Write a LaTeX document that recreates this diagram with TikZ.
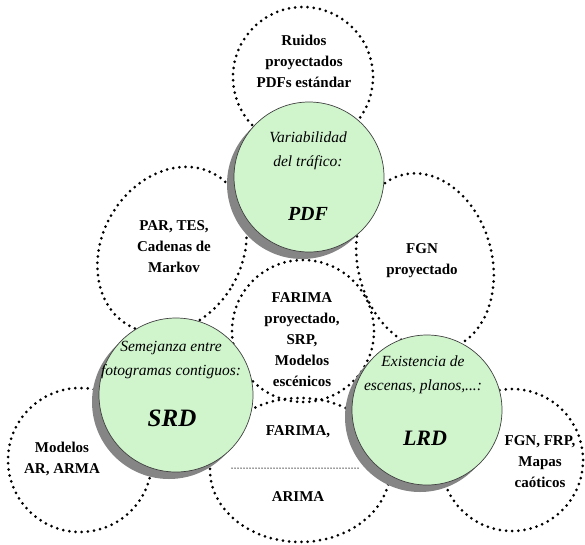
\documentclass[tikz,border=0pt]{standalone}
\usepackage{fontspec}
\setmainfont{Liberation Serif}
\usetikzlibrary{shapes.geometric,shadows}
\definecolor{mint}{RGB}{208,245,205}
\begin{document}
\begin{tikzpicture}[x=1pt,y=-1pt,
  dotc/.style={draw=black, line width=3pt, dash pattern=on 0pt off 6.2pt, line cap=round, inner sep=0pt, outer sep=0pt},
  ring/.style={dotc, circle, minimum size=#1},
  oval/.style={dotc, ellipse},
  fine/.style={draw=black!80, line width=1.5pt, dash pattern=on 0pt off 3pt, line cap=round},
  greenc/.style={circle, draw=black!75, line width=0.7pt, fill=mint, minimum size=#1, inner sep=0pt,
    drop shadow={shadow xshift=-7pt, shadow yshift=-7pt, fill=black!48, opacity=1}},
  lbl/.style={align=center, font=\fontsize{15}{21}\selectfont\bfseries, inner sep=0pt},
  ital/.style={align=center, font=\fontsize{15.5}{23.5}\selectfont\itshape, inner sep=0pt},
  big/.style={font=\fontsize{#1}{#1}\selectfont\bfseries\itshape, inner sep=0pt}
]
\useasboundingbox (0,0) rectangle (585,544);
% dotted circles
\node[ring=140pt] (top) at (303,77) {};
\node[oval, minimum width=140pt, minimum height=174pt, rotate=-30] (par) at (172,250) {};
\node[oval, minimum width=134pt, minimum height=180pt, rotate=15] (fgn) at (425,262) {};
\node[ring=142pt] (mid) at (303,331) {};
\node[oval, minimum width=180pt, minimum height=144pt] (bot) at (300,470) {};
\node[ring=144pt] (lft) at (80,460) {};
\node[ring=142pt] (rgt) at (512,460) {};
\coordinate (la) at (232,468);
\coordinate (lb) at (358,468);
\draw[fine] (la) -- (lb);
% green circles
\node[greenc=150pt] (pdf) at (309,177) {};
\node[greenc=154pt] (srd) at (176,395) {};
\node[greenc=150pt] (lrd) at (427,410) {};
% texts
\node[lbl] (t1) at (304,61) {Ruidos\\proyectados\\PDFs estándar};
\node[lbl] (t2) at (174,247) {PAR, TES,\\Cadenas de\\Markov};
\node[lbl] (t3) at (422,261) {FGN\\proyectado};
\node[lbl] (t4) at (302,340) {FARIMA\\proyectado,\\SRP,\\Modelos\\escénicos};
\node[lbl] (t5) at (298,432) {FARIMA,};
\node[lbl] (t6) at (298,497) {ARIMA};
\node[lbl] (t7) at (62,459) {Modelos\\AR, ARMA};
\node[lbl] (t8) at (540,462) {FGN, FRP,\\Mapas\\caóticos};
\node[ital] (g1) at (308,151) {Variabilidad\\del tráfico:};
\node[big=20] (g1b) at (308,214) {PDF};
\node[ital] (g2) at (171,360) {Semejanza entre\\fotogramas contiguos:};
\node[big=25] (g2b) at (172,418) {SRD};
\node[ital] (g3) at (423,375) {Existencia de\\escenas, planos,...:};
\node[big=22] (g3b) at (425,438) {LRD};
\end{tikzpicture}
\end{document}
